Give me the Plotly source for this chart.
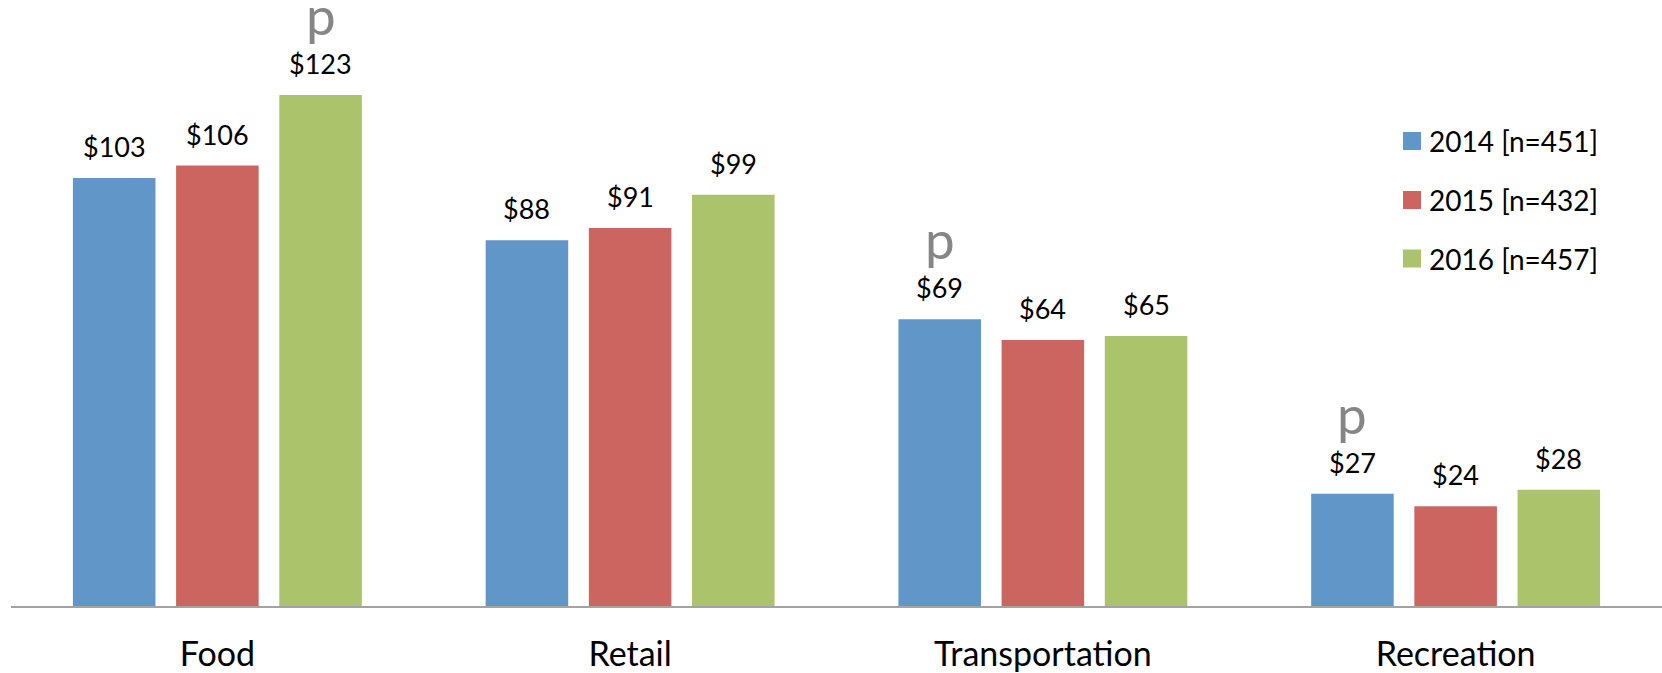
import plotly.graph_objects as go

# Average spend per visitor by category and survey year
categories = ["Food", "Retail", "Transportation", "Recreation"]
years = ["2014 [n=451]", "2015 [n=432]", "2016 [n=457]"]
spend_2014 = [103, 88, 69, 27]
spend_2015 = [106, 91, 64, 24]
spend_2016 = [123, 99, 65, 28]
# significance markers ("p") per series, one flag per category
flag_2014 = [False, False, True, True]
flag_2015 = [False, False, False, False]
flag_2016 = [True, False, False, False]

series = [spend_2014, spend_2015, spend_2016]
flags = [flag_2014, flag_2015, flag_2016]
colors = ["#6196C9", "#CC6560", "#ABC46C"]

FONT = "Lato"
W, H = 1662, 673
ML, MR, MT, MB = 11, 0, 0, 67
BARGAP, GROUPGAP = 0.25, 0.2
slot = (1 - BARGAP) / len(series)

fig = go.Figure()
for name, vals, col in zip(years, series, colors):
    fig.add_trace(go.Bar(
        x=categories, y=vals, name=name, marker_color=col,
        marker_line_width=0, showlegend=False,
    ))

annotations = []
for j, (vals, flg) in enumerate(zip(series, flags)):
    off = (j - (len(series) - 1) / 2) * slot
    for i, v in enumerate(vals):
        annotations.append(dict(
            x=i + off, y=v, xref="x", yref="y", text=f"${v}",
            showarrow=False, yanchor="bottom", yshift=13,
            font=dict(family=FONT, size=27, color="#000000"),
        ))
        if flg[i]:
            annotations.append(dict(
                x=i + off, y=v, xref="x", yref="y", text="p",
                showarrow=False, yanchor="bottom", yshift=47,
                font=dict(family=FONT, size=53, color="#868686"),
            ))

# legend drawn as squares + labels in the upper right
pw = W - ML - MR
ph = H - MT - MB
shapes = []
leg_x0, leg_sq = 1403, 18
leg_rows = [141, 200, 258.5]
for name, col, yc in zip(years, colors, leg_rows):
    x0 = (leg_x0 - ML) / pw
    x1 = (leg_x0 + leg_sq - ML) / pw
    y0 = 1 - (yc + leg_sq / 2 - MT) / ph
    y1 = 1 - (yc - leg_sq / 2 - MT) / ph
    shapes.append(dict(type="rect", xref="paper", yref="paper",
                       x0=x0, x1=x1, y0=y0, y1=y1,
                       fillcolor=col, line_width=0))
    annotations.append(dict(
        x=(leg_x0 + leg_sq + 6 - ML) / pw, y=1 - (yc - MT) / ph,
        xref="paper", yref="paper", text=name, showarrow=False,
        xanchor="left", yanchor="middle",
        font=dict(family=FONT, size=28, color="#000000"),
    ))

ymax = ph / 4.155
fig.update_layout(
    width=W, height=H,
    margin=dict(l=ML, r=MR, t=MT, b=MB, pad=0, autoexpand=False),
    paper_bgcolor="white", plot_bgcolor="white",
    barmode="group", bargap=BARGAP, bargroupgap=GROUPGAP,
    font=dict(family=FONT, color="#000000"),
    annotations=annotations, shapes=shapes,
    xaxis=dict(
        type="category", showline=True, linecolor="#A3A3A3", linewidth=2,
        ticks="", showgrid=False, zeroline=False, automargin=False,
        tickfont=dict(family=FONT, size=34, color="#000000"),
        ticklabelstandoff=17,
    ),
    yaxis=dict(visible=False, range=[0, ymax], showgrid=False,
               zeroline=False, automargin=False),
)

fig.write_html("out.html")
